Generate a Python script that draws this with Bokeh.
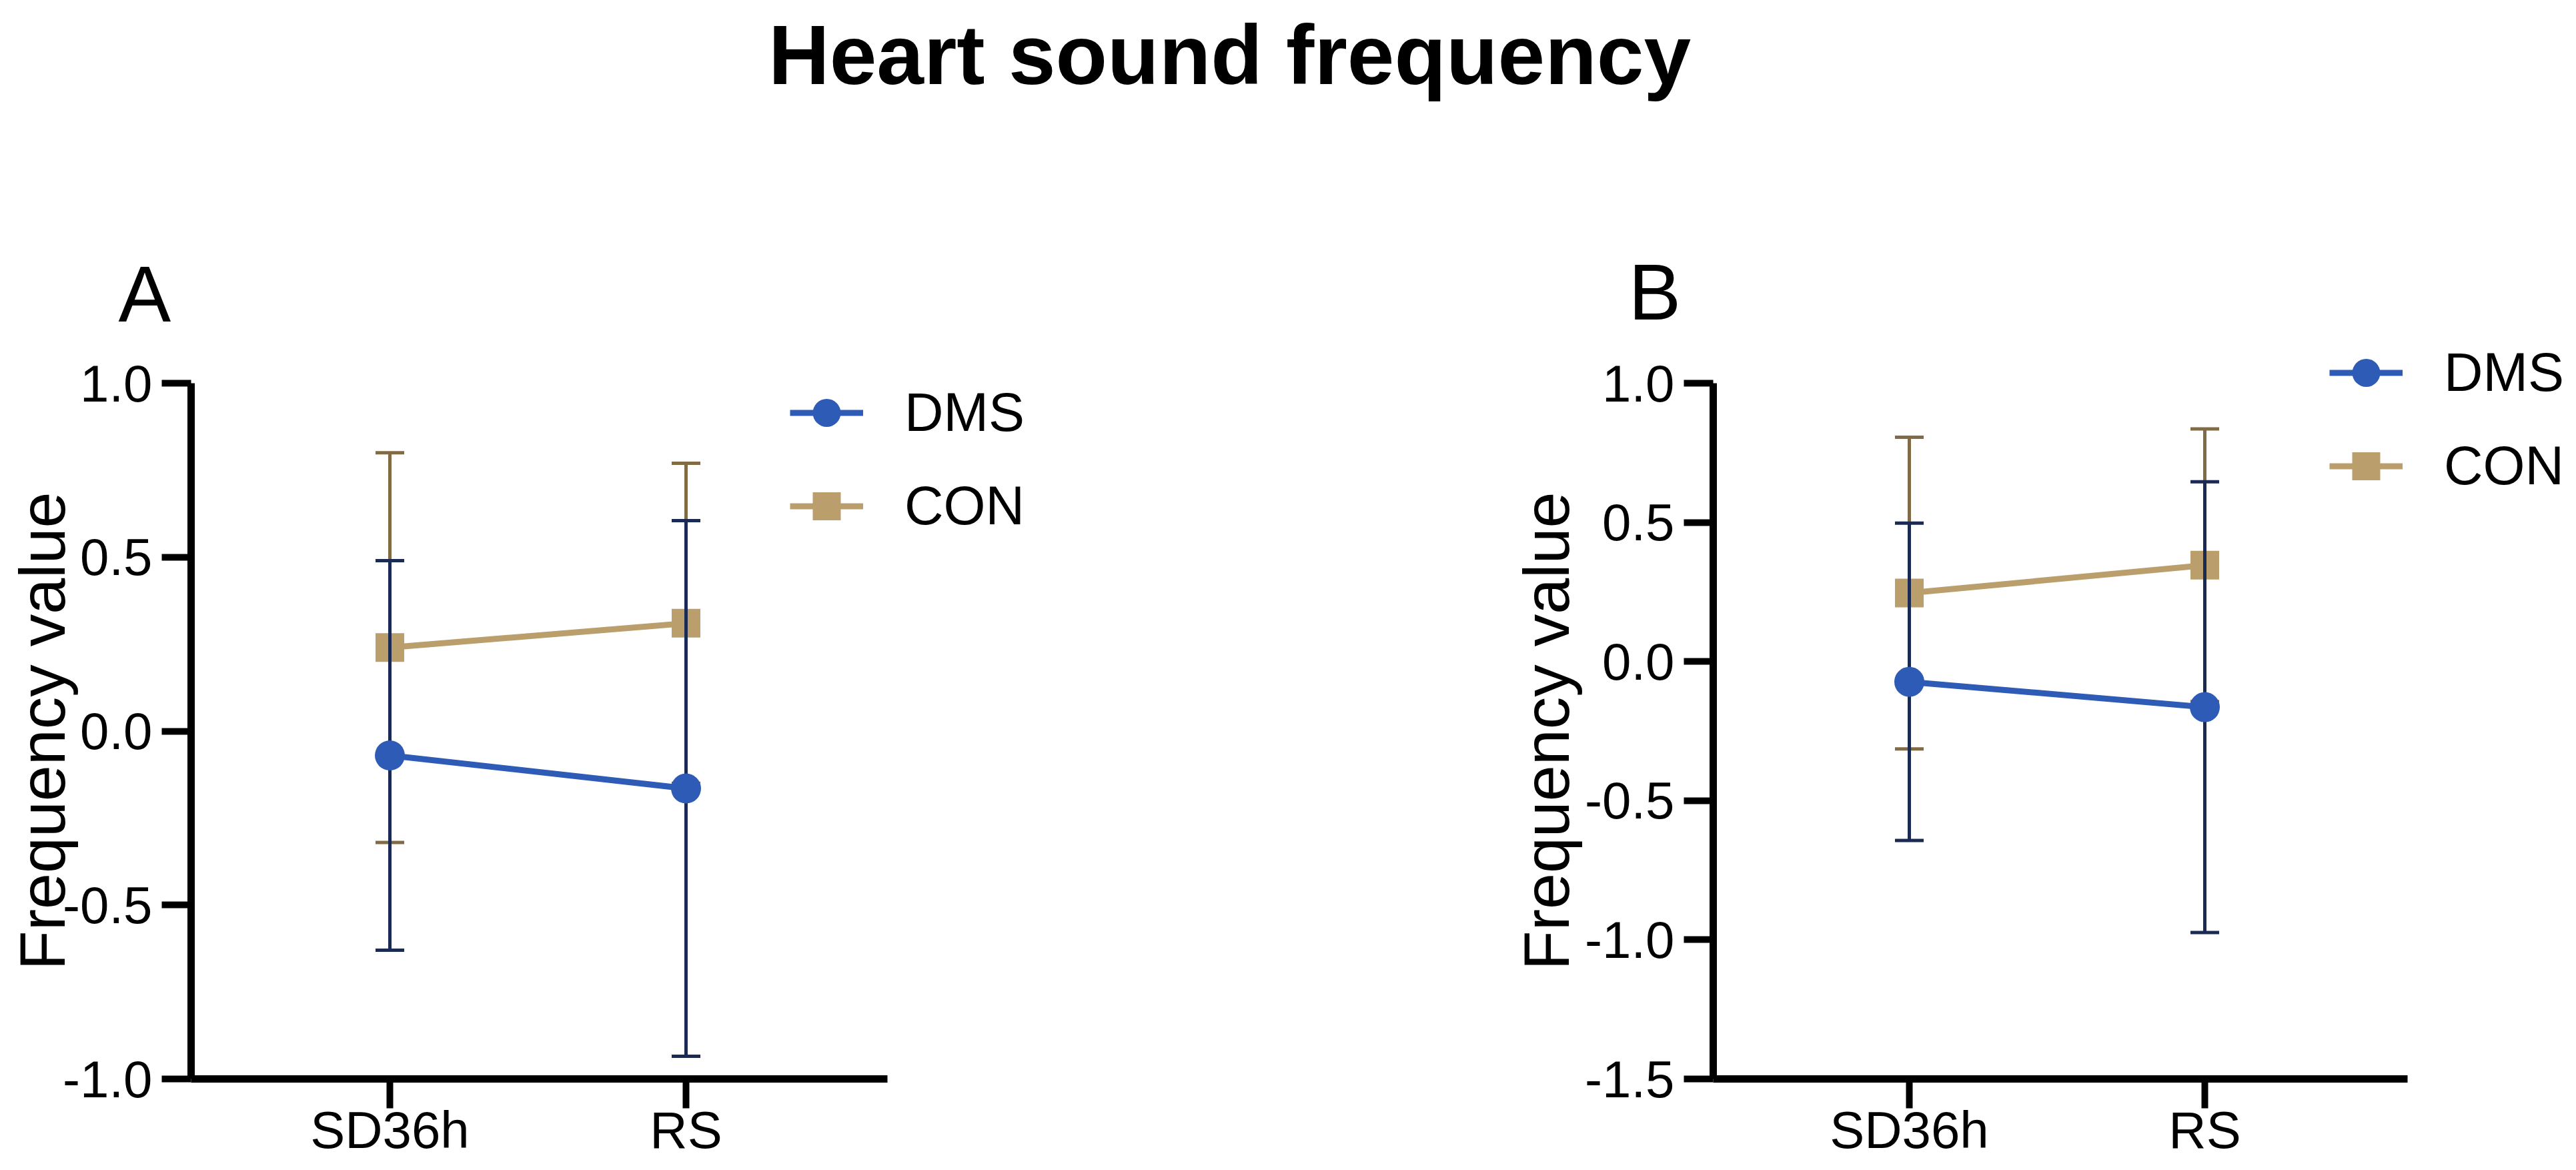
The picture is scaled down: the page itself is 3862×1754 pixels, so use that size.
from bokeh.plotting import figure
from bokeh.models import (Range1d, LinearAxis, FixedTicker, PrintfTickFormatter,
                          Legend, LegendItem, Label)
from bokeh.embed import file_html
from bokeh.resources import INLINE

# ---------------- data ----------------
title_text = "Heart sound frequency"
categories = ["SD36h", "RS"]
y_label = "Frequency value"
series_names = ["DMS", "CON"]
panel_letters = ["A", "B"]

a_dms_mean = [-0.07, -0.165]
a_dms_sd = [0.56, 0.77]
a_con_mean = [0.24, 0.31]
a_con_sd = [0.56, 0.46]

b_dms_mean = [-0.073, -0.164]
b_dms_sd = [0.57, 0.81]
b_con_mean = [0.246, 0.346]
b_con_sd = [0.56, 0.49]

a_yrange = [-1.0, 1.0]
b_yrange = [-1.5, 1.0]
a_yticks = [-1.0, -0.5, 0.0, 0.5, 1.0]
b_yticks = [-1.5, -1.0, -0.5, 0.0, 0.5, 1.0]

# ---------------- style / layout (page pixels) ----------------
FONT = "Liberation Sans"
DMS_COLOR = "#2D5BB5"
DMS_ERR = "#1B2A52"
CON_COLOR = "#BA9F6D"
CON_ERR = "#806B45"

W, H = 3846, 1738          # figure size; page origin at (8, 8)
BASELINE_FIX = 0.27        # empirical shift for alphabetic baseline (em)


def fx(page_x):
    return page_x - 8


def fy(page_y):
    return H - (page_y - 8)


panel_geo = [
    dict(left=294, right=1338, top=582, bottom=1625, cat0=592, step=444,
         letter_x=185, letter_base=480, legend_x=1192, legend_top=574,
         ylabel_standoff=-27),
    dict(left=2576, right=3617, top=582, bottom=1625, cat0=2870, step=443,
         letter_x=2449, letter_base=477, legend_x=3500, legend_top=514,
         ylabel_standoff=0),
]

p = figure(width=W, height=H, x_range=Range1d(0, W), y_range=Range1d(0, H),
           output_backend="svg", toolbar_location=None, title=None,
           min_border=0, x_axis_type=None, y_axis_type=None)
p.outline_line_color = None
p.grid.visible = False
p.background_fill_color = "white"
p.border_fill_color = "white"

# title
p.add_layout(Label(x=fx(1851), y=fy(124 - BASELINE_FIX * 127), text=title_text,
                   text_font=FONT, text_font_style="bold", text_font_size="127px",
                   text_color="black", text_align="center",
                   text_baseline="alphabetic"))


def style_axis(ax):
    ax.axis_line_width = 11
    ax.axis_line_color = "black"
    ax.major_tick_line_width = 10
    ax.major_tick_line_color = "black"
    ax.major_tick_out = 44
    ax.major_tick_in = 0
    ax.minor_tick_out = 0
    ax.minor_tick_in = 0
    ax.major_label_text_font = FONT
    ax.major_label_text_font_size = "78px"
    ax.major_label_text_color = "black"


def add_series(xn, yn, mean, sd, color, err_color, marker, msize):
    xs = list(range(len(categories)))
    lower = [m - s for m, s in zip(mean, sd)]
    upper = [m + s for m, s in zip(mean, sd)]
    p.segment(x0=xs, y0=lower, x1=xs, y1=upper, line_color=err_color,
              line_width=5, x_range_name=xn, y_range_name=yn)
    p.scatter(x=xs + xs, y=lower + upper, marker="dash", size=43,
              line_color=err_color, line_width=5, x_range_name=xn, y_range_name=yn)
    lr = p.line(x=xs, y=mean, line_color=color, line_width=9,
                x_range_name=xn, y_range_name=yn)
    sr = p.scatter(x=xs, y=mean, marker=marker, size=msize, fill_color=color,
                   line_color=color, line_width=0, x_range_name=xn, y_range_name=yn)
    return [lr, sr]


def make_panel(idx, yr, yticks, dms_mean, dms_sd, con_mean, con_sd):
    g = panel_geo[idx]
    xn, yn = f"x{idx}", f"y{idx}"
    step = g["step"]
    ppu = (g["bottom"] - g["top"]) / (yr[1] - yr[0])
    xv = lambda px: (px - g["cat0"]) / step
    yv = lambda py: yr[1] - (py - g["top"]) / ppu
    p.extra_x_ranges[xn] = Range1d(xv(8), xv(8 + W))
    p.extra_y_ranges[yn] = Range1d(yv(8 + H), yv(8))

    yax = LinearAxis(x_range_name=xn, y_range_name=yn, fixed_location=xv(g["left"]),
                     bounds=(yr[0], yr[1]), ticker=FixedTicker(ticks=yticks),
                     formatter=PrintfTickFormatter(format="%.1f"))
    style_axis(yax)
    yax.major_label_standoff = 14
    yax.axis_label = y_label
    yax.axis_label_text_font = FONT
    yax.axis_label_text_font_size = "97px"
    yax.axis_label_text_font_style = "normal"
    yax.axis_label_text_color = "black"
    yax.axis_label_standoff = g["ylabel_standoff"]
    p.add_layout(yax, "left")

    xs = list(range(len(categories)))
    xax = LinearAxis(x_range_name=xn, y_range_name=yn, fixed_location=yr[0],
                     bounds=(xv(g["left"]), xv(g["right"])),
                     ticker=FixedTicker(ticks=xs),
                     major_label_overrides={i: c for i, c in zip(xs, categories)})
    style_axis(xax)
    xax.major_label_standoff = -12
    p.add_layout(xax, "below")

    con_r = add_series(xn, yn, con_mean, con_sd, CON_COLOR, CON_ERR, "square", 43)
    dms_r = add_series(xn, yn, dms_mean, dms_sd, DMS_COLOR, DMS_ERR, "circle", 45)

    legend_h = 105 * 2 + 35
    legend = Legend(items=[LegendItem(label=series_names[0], renderers=dms_r),
                           LegendItem(label=series_names[1], renderers=con_r)],
                    location=(fx(g["legend_x"]), fy(g["legend_top"] + legend_h)),
                    glyph_width=110, glyph_height=105, label_height=105,
                    label_standoff=62, spacing=35, padding=0, margin=0,
                    border_line_color=None, background_fill_alpha=0,
                    label_text_font=FONT, label_text_font_size="81px",
                    label_text_color="black")
    p.add_layout(legend)

    p.add_layout(Label(x=fx(g["letter_x"]), y=fy(g["letter_base"] - BASELINE_FIX * 118),
                       text=panel_letters[idx], text_font=FONT, text_font_size="118px",
                       text_color="black", text_align="left",
                       text_baseline="alphabetic"))


make_panel(0, a_yrange, a_yticks, a_dms_mean, a_dms_sd, a_con_mean, a_con_sd)
make_panel(1, b_yrange, b_yticks, b_dms_mean, b_dms_sd, b_con_mean, b_con_sd)

open("out.html", "w").write(file_html(p, INLINE))
